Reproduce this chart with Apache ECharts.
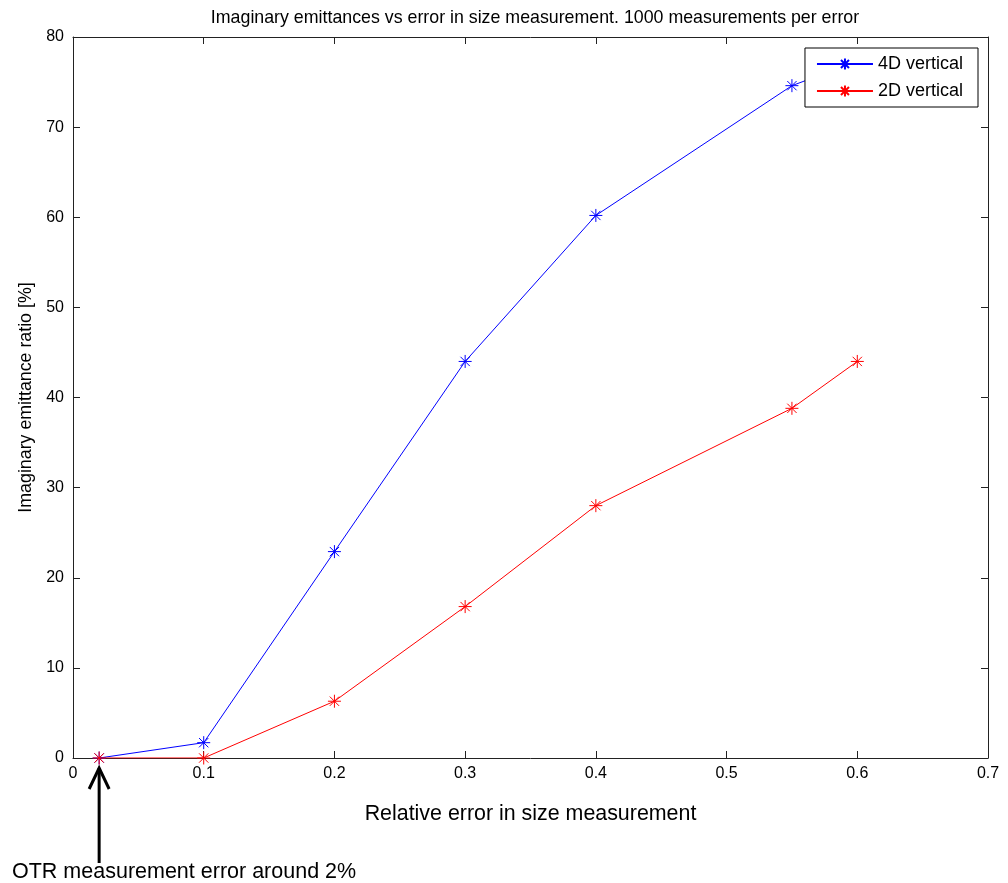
<!DOCTYPE html>
<html>
<head>
<meta charset="utf-8">
<script src="https://cdn.jsdelivr.net/npm/echarts@6/dist/echarts.min.js"></script>
<style>
  html, body { margin: 0; padding: 0; background: #fff; }
  #chart { width: 1008px; height: 883px; }
</style>
</head>
<body>
<div id="chart"></div>
<script>
// relative error (x) and imaginary emittance ratio in % (y)
var errors = [0.02, 0.1, 0.2, 0.3, 0.4, 0.55, 0.6];
var ratio4D = [0, 1.7, 22.9, 44.0, 60.2, 74.6, 77.3];
var ratio2D = [0, 0, 6.3, 16.8, 28.0, 38.8, 44.0];
var seriesNames = ['4D vertical', '2D vertical'];

var FONT = 'Liberation Sans, Arial, sans-serif';
// MATLAB style '*' marker
var STAR = 'path://M0,-6L0,6M-6,0L6,0M-4.3,-4.3L4.3,4.3M-4.3,4.3L4.3,-4.3';

function pairs(xs, ys) {
  return xs.map(function (x, i) { return [x, ys[i]]; });
}

function makeSeries(name, values, color) {
  return {
    name: name,
    type: 'line',
    data: pairs(errors, values),
    symbol: STAR,
    symbolSize: 13,
    showSymbol: true,
    lineStyle: { color: color, width: 1 },
    itemStyle: { color: color, borderColor: color, borderWidth: 1 },
    emphasis: { disabled: true },
    animation: false
  };
}

var chart = echarts.init(document.getElementById('chart'));

var tickStyle = { inside: true, length: 7, lineStyle: { color: '#222' } };
var lineStyle = { onZero: false, lineStyle: { color: '#222', width: 1 } };

chart.setOption({
  backgroundColor: '#fff',
  animation: false,
  title: {
    text: 'Imaginary emittances vs error in size measurement. 1000 measurements per error',
    left: 530,
    textAlign: 'center',
    top: 4,
    textStyle: { fontFamily: FONT, fontSize: 17.8, fontWeight: 'normal', color: '#000' }
  },
  grid: { left: 73, top: 37, right: 20, bottom: 125 },
  legend: {
    data: seriesNames,
    orient: 'vertical',
    right: 30,
    top: 48,
    backgroundColor: '#fff',
    borderColor: '#000',
    borderWidth: 1,
    padding: [7, 15, 7, 11],
    itemWidth: 56,
    itemHeight: 14,
    itemGap: 9,
    textStyle: { fontFamily: FONT, fontSize: 18, color: '#000' },
    selectedMode: false
  },
  xAxis: [{
    type: 'value',
    min: 0, max: 0.7, interval: 0.1,
    name: 'Relative error in size measurement',
    nameLocation: 'middle',
    nameGap: 46,
    nameTextStyle: { fontFamily: FONT, fontSize: 21.4, color: '#000' },
    axisLine: lineStyle,
    axisTick: tickStyle,
    axisLabel: { fontFamily: FONT, fontSize: 16, color: '#000', margin: 8 },
    splitLine: { show: false }
  }, {
    type: 'value',
    position: 'top',
    min: 0, max: 0.7, interval: 0.1,
    axisLine: lineStyle,
    axisTick: tickStyle,
    axisLabel: { show: false },
    splitLine: { show: false }
  }],
  yAxis: [{
    type: 'value',
    min: 0, max: 80, interval: 10,
    name: 'Imaginary emittance ratio [%]',
    nameLocation: 'middle',
    nameRotate: 90,
    nameGap: 33,
    nameTextStyle: { fontFamily: FONT, fontSize: 17.8, color: '#000' },
    axisLine: lineStyle,
    axisTick: tickStyle,
    axisLabel: { fontFamily: FONT, fontSize: 16, color: '#000', margin: 9 },
    splitLine: { show: false }
  }, {
    type: 'value',
    position: 'right',
    min: 0, max: 80, interval: 10,
    axisLine: lineStyle,
    axisTick: tickStyle,
    axisLabel: { show: false },
    splitLine: { show: false }
  }],
  series: [
    makeSeries(seriesNames[0], ratio4D, '#0000ff'),
    makeSeries(seriesNames[1], ratio2D, '#ff0000')
  ]
});

// annotation arrow pointing at the 2% error point
var px = chart.convertToPixel({ xAxisIndex: 0 }, errors[0]);
chart.setOption({
  graphic: [{
    type: 'group',
    children: [{
      type: 'line',
      shape: { x1: px, y1: 768, x2: px, y2: 863 },
      style: { stroke: '#000', lineWidth: 3 }
    }, {
      type: 'polyline',
      shape: { points: [[px - 10, 789], [px, 768], [px + 10, 789]] },
      style: { stroke: '#000', lineWidth: 3, fill: null }
    }, {
      type: 'text',
      left: 12,
      top: 861,
      style: { text: 'OTR measurement error around 2%', font: '21.5px ' + FONT, fill: '#000' }
    }]
  }]
});
</script>
</body>
</html>
